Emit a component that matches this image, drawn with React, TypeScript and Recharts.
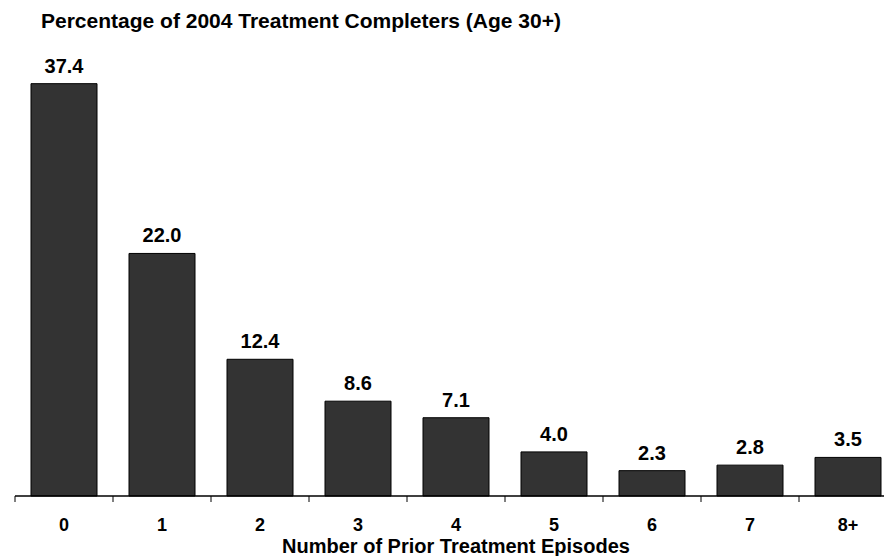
import React from "react";
import { BarChart, Bar, XAxis, YAxis, LabelList, Label } from "recharts";

const categories = ["0", "1", "2", "3", "4", "5", "6", "7", "8+"];
const percentages = [37.4, 22.0, 12.4, 8.6, 7.1, 4.0, 2.3, 2.8, 3.5];

const chartTitle = "Percentage of 2004 Treatment Completers (Age 30+)";
const xAxisTitle = "Number of Prior Treatment Episodes";

const chartData = categories.map((c, i) => ({
  episodes: c,
  pct: percentages[i],
}));

const FONT = '"Liberation Sans", Arial, Helvetica, sans-serif';

// tick mark sits on the category boundary, label under the centre
const renderTick = (props: any) => {
  const { x, y, payload, index } = props;
  const half = payload && payload.offset ? payload.offset : 49;
  return (
    <g key={`tick-${index}`}>
      <line x1={x - half} y1={y - 8} x2={x - half} y2={y - 2} stroke="#000" strokeWidth={1} />
      <text
        x={x}
        y={y + 27}
        textAnchor="middle"
        fontFamily={FONT}
        fontWeight="bold"
        fontSize={18}
        fill="#000"
        style={{ fontFamily: FONT, fontWeight: 700, fontSize: 18, fill: "#000" }}
      >
        {payload.value}
      </text>
    </g>
  );
};

const App: React.FC = () => {
  return (
    <div
      style={{
        position: "absolute",
        left: 0,
        top: 0,
        width: 884,
        height: 556,
        overflow: "hidden",
        background: "#fff",
        fontFamily: FONT,
      }}
    >
      <div
        style={{
          position: "absolute",
          left: 41,
          top: 11,
          fontSize: 21,
          lineHeight: "20px",
          fontWeight: "bold",
          color: "#000",
          whiteSpace: "nowrap",
        }}
      >
        {chartTitle}
      </div>
      <BarChart
        width={900}
        height={556}
        data={chartData}
        margin={{ top: 55, right: 3, left: 15, bottom: 0 }}
        barSize={66}
      >
        <YAxis hide domain={[0, 40]} />
        <XAxis
          dataKey="episodes"
          height={60}
          axisLine={{ stroke: "#000", strokeWidth: 1.5 }}
          tickLine={{ stroke: "transparent" }}
          tickSize={6}
          tickMargin={2}
          tick={renderTick}
          interval={0}
        >
          <Label
            value={xAxisTitle}
            position="insideBottom"
            offset={3}
            style={{ fontFamily: FONT, fontWeight: "bold", fontSize: 20, fill: "#000" }}
          />
        </XAxis>
        <Bar dataKey="pct" fill="#333333" stroke="#000" strokeWidth={1} isAnimationActive={false}>
          <LabelList
            dataKey="pct"
            position="top"
            offset={11}
            formatter={(v: any) => Number(v).toFixed(1)}
            style={{ fontFamily: FONT, fontWeight: "bold", fontSize: 20, fill: "#000" }}
          />
        </Bar>
      </BarChart>
    </div>
  );
};

export default App;
